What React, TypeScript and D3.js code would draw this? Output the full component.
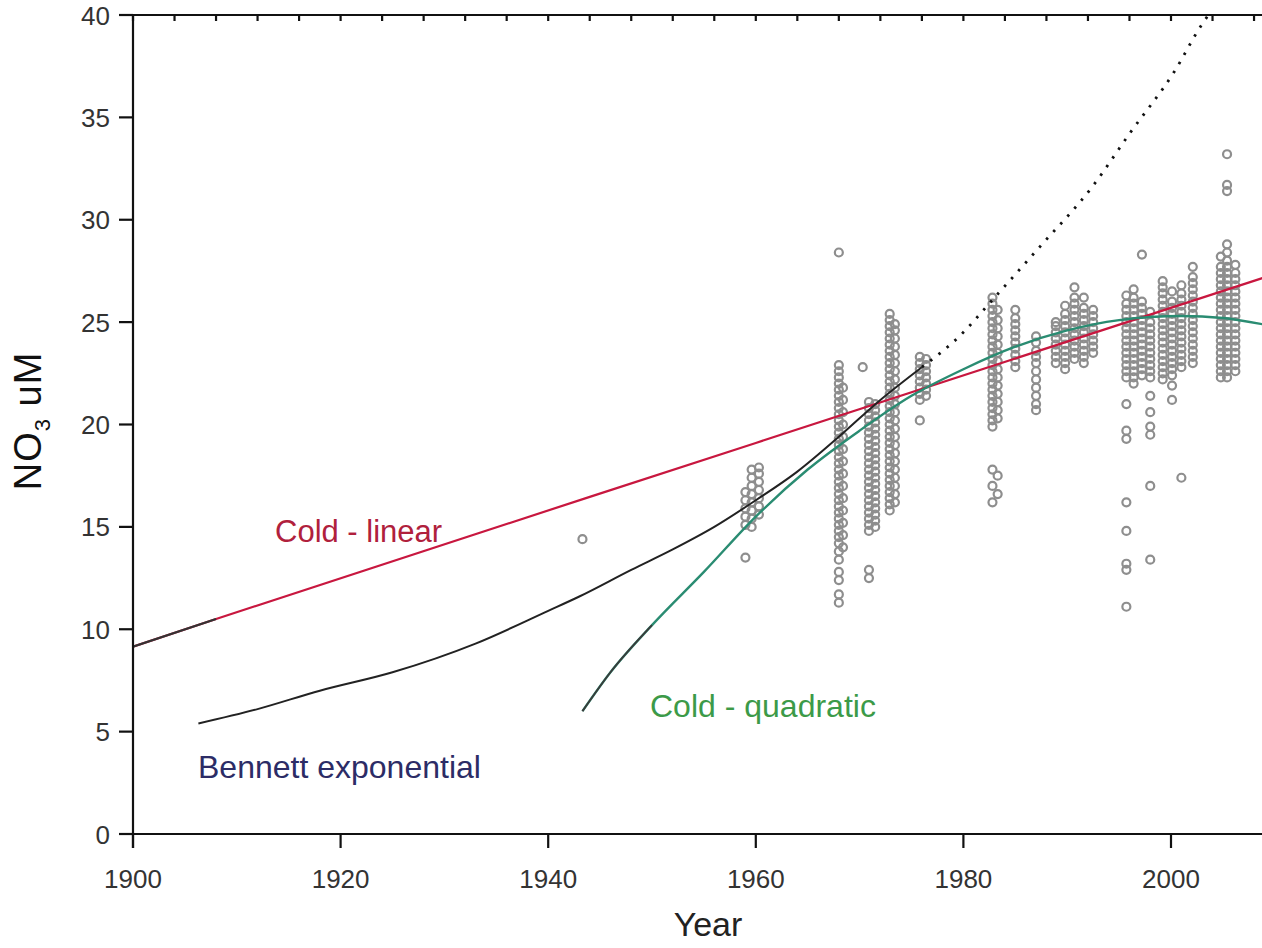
import React from "react";
import * as d3 from "d3";

// ---------- data ----------
const xTickYears = [1900, 1920, 1940, 1960, 1980, 2000];
const yTickValues = [0, 5, 10, 15, 20, 25, 30, 35, 40];
const topTickYears = [1900, 1904, 1908, 1912, 1916, 1920, 1924, 1928, 1932, 1936, 1940, 1944, 1948, 1952, 1956, 1960, 1964, 1968, 1972, 1976, 1980, 1984, 1988, 1992, 1996, 2000, 2004, 2008];

const linearYears = [1900, 1908, 1960, 2008.8];
const linearValues = [9.15, 10.5, 19.1, 27.15];

const bennettYears = [1906.3, 1912, 1918, 1925, 1933, 1940, 1943, 1948, 1952, 1956, 1960, 1964, 1968, 1972, 1976];
const bennettValues = [5.4, 6.1, 7.0, 7.9, 9.3, 10.9, 11.6, 12.9, 13.9, 15.0, 16.3, 17.7, 19.4, 21.2, 22.8];

const bennettExtYears = [1976, 1979.6, 1983, 1987.4, 1992.4, 1996, 2000.4, 2002.8, 2003.6];
const bennettExtValues = [22.8, 24.3, 26.2, 28.7, 31.6, 34.2, 37.3, 39.4, 40];

const quadYears = [1943.3, 1946, 1950, 1955, 1960, 1965, 1970, 1975, 1980, 1985, 1990, 1995, 2001, 2005, 2008.8];
const quadValues = [6.0, 7.9, 10.2, 12.8, 15.5, 17.8, 19.7, 21.4, 22.7, 23.8, 24.6, 25.1, 25.3, 25.2, 24.9];

const obsYears = [
  1943.3, 1959.0, 1959.6, 1960.3, 1968.0, 1968.4, 1970.3, 1970.9, 1971.5, 1972.9, 1973.4,
  1975.8, 1976.4, 1982.8, 1983.3, 1985.0, 1987.0, 1988.9, 1989.8, 1990.7, 1991.6, 1992.5,
  1995.7, 1996.4, 1997.2, 1998.0, 1999.2, 2000.1, 2001.0, 2002.1, 2004.8, 2005.4, 2006.2,
];
const obsValues: number[][] = [
  [14.4],
  [13.5, 15.1, 15.5, 15.9, 16.3, 16.7],
  [15.0, 15.4, 15.8, 16.2, 16.6, 17.0, 17.4, 17.8],
  [15.6, 16.0, 16.4, 16.8, 17.2, 17.6, 17.9],
  [11.3, 11.7, 12.4, 12.8, 13.4, 13.8, 14.2, 14.5, 14.8, 15.1, 15.4, 15.7, 16.0, 16.3, 16.6, 16.9, 17.2, 17.5, 17.8, 18.1, 18.4, 18.7, 19.0, 19.3, 19.6, 19.9, 20.2, 20.5, 20.8, 21.1, 21.4, 21.7, 22.0, 22.3, 22.6, 22.9, 28.4],
  [14.0, 14.6, 15.2, 15.8, 16.4, 17.0, 17.6, 18.2, 18.8, 19.4, 20.0, 20.6, 21.2, 21.8],
  [22.8],
  [12.5, 12.9, 14.8, 15.1, 15.4, 15.7, 16.0, 16.3, 16.6, 16.9, 17.2, 17.5, 17.8, 18.1, 18.4, 18.7, 19.0, 19.3, 19.6, 19.9, 20.2, 20.5, 20.8, 21.1],
  [15.0, 15.3, 15.6, 15.9, 16.2, 16.5, 16.8, 17.1, 17.4, 17.7, 18.0, 18.3, 18.6, 18.9, 19.2, 19.5, 19.8, 20.1, 20.4, 20.7, 21.0],
  [15.8, 16.1, 16.4, 16.7, 17.0, 17.3, 17.6, 17.9, 18.2, 18.5, 18.8, 19.1, 19.4, 19.7, 20.0, 20.3, 20.6, 20.9, 21.2, 21.5, 21.8, 22.1, 22.4, 22.7, 23.0, 23.3, 23.6, 23.9, 24.2, 24.5, 24.8, 25.1, 25.4],
  [16.2, 16.6, 17.0, 17.4, 17.8, 18.2, 18.6, 19.0, 19.4, 19.8, 20.2, 20.6, 21.0, 21.4, 21.8, 22.2, 22.6, 23.0, 23.4, 23.8, 24.2, 24.6, 24.9],
  [20.2, 21.2, 21.5, 21.8, 22.1, 22.4, 22.7, 23.0, 23.3],
  [21.4, 21.7, 22.0, 22.3, 22.6, 22.9, 23.2],
  [16.2, 17.0, 17.8, 19.9, 20.2, 20.5, 20.8, 21.1, 21.4, 21.7, 22.0, 22.3, 22.6, 22.9, 23.2, 23.5, 23.8, 24.1, 24.4, 24.7, 25.0, 25.3, 25.6, 25.9, 26.2],
  [16.6, 17.5, 20.3, 20.7, 21.1, 21.5, 21.9, 22.3, 22.7, 23.1, 23.5, 23.9, 24.3, 24.7, 25.1, 25.6],
  [22.8, 23.1, 23.4, 23.7, 24.0, 24.3, 24.6, 24.9, 25.2, 25.6],
  [20.7, 21.0, 21.4, 21.8, 22.2, 22.6, 23.0, 23.3, 23.6, 24.0, 24.3],
  [23.0, 23.3, 23.6, 23.9, 24.2, 24.5, 24.8, 25.0],
  [22.7, 23.0, 23.3, 23.6, 23.9, 24.2, 24.5, 24.8, 25.1, 25.4, 25.8],
  [23.2, 23.5, 23.8, 24.1, 24.4, 24.7, 25.0, 25.3, 25.6, 25.9, 26.2, 26.7],
  [23.0, 23.3, 23.6, 23.9, 24.2, 24.5, 24.8, 25.1, 25.4, 25.7, 26.2],
  [23.5, 23.8, 24.1, 24.4, 24.7, 25.0, 25.3, 25.6],
  [11.1, 12.9, 13.2, 14.8, 16.2, 19.3, 19.7, 21.0, 22.3, 22.6, 22.9, 23.2, 23.5, 23.8, 24.1, 24.4, 24.7, 25.0, 25.3, 25.6, 25.9, 26.3],
  [22.0, 22.3, 22.6, 22.9, 23.2, 23.5, 23.8, 24.1, 24.4, 24.7, 25.0, 25.3, 25.6, 25.9, 26.2, 26.6],
  [22.4, 22.7, 23.0, 23.3, 23.6, 23.9, 24.2, 24.5, 24.8, 25.1, 25.4, 25.7, 26.0, 28.3],
  [13.4, 17.0, 19.5, 19.9, 20.6, 21.4, 22.3, 22.6, 22.9, 23.2, 23.5, 23.8, 24.1, 24.4, 24.7, 25.0, 25.5],
  [22.2, 22.5, 22.8, 23.1, 23.4, 23.7, 24.0, 24.3, 24.6, 24.9, 25.2, 25.5, 25.8, 26.1, 26.4, 26.7, 27.0],
  [21.2, 21.9, 22.4, 22.7, 23.0, 23.3, 23.6, 23.9, 24.2, 24.5, 24.8, 25.1, 25.4, 25.7, 26.0, 26.5],
  [17.4, 22.8, 23.1, 23.4, 23.7, 24.0, 24.3, 24.6, 24.9, 25.2, 25.5, 25.8, 26.1, 26.4, 26.8],
  [23.0, 23.3, 23.6, 23.9, 24.2, 24.5, 24.8, 25.1, 25.4, 25.7, 26.0, 26.3, 26.6, 26.9, 27.2, 27.7],
  [22.3, 22.6, 22.9, 23.2, 23.5, 23.8, 24.1, 24.4, 24.7, 25.0, 25.3, 25.6, 25.9, 26.2, 26.5, 26.8, 27.1, 27.4, 27.7, 28.2],
  [22.3, 22.6, 22.9, 23.2, 23.5, 23.8, 24.1, 24.4, 24.7, 25.0, 25.3, 25.6, 25.9, 26.2, 26.5, 26.8, 27.1, 27.4, 27.7, 28.0, 28.4, 28.8, 31.4, 31.7, 33.2],
  [22.6, 22.9, 23.2, 23.5, 23.8, 24.1, 24.4, 24.7, 25.0, 25.3, 25.6, 25.9, 26.2, 26.5, 26.8, 27.1, 27.4, 27.8],
];

// ---------- layout ----------
const W = 1262;
const H = 948;
const x = d3.scaleLinear().domain([1900, 2000]).range([133, 1171]);
const y = d3.scaleLinear().domain([0, 40]).range([834, 15]);
const X0 = 133;
const XR = 1262;
const Y0 = 834;
const YT = 15;

const font = "'Liberation Sans', Arial, sans-serif";

function pts(years: number[], vals: number[]): [number, number][] {
  return years.map((yr, i) => [yr, vals[i]]);
}

const line = d3
  .line<[number, number]>()
  .x((d) => x(d[0]))
  .y((d) => y(d[1]))
  .curve(d3.curveMonotoneX);

export default function App() {
  const linear = pts(linearYears, linearValues);
  const bennett = pts(bennettYears, bennettValues);
  const bennettExt = pts(bennettExtYears, bennettExtValues);
  const quad = pts(quadYears, quadValues);
  const quadEarly = quad.filter((d) => d[0] <= 1950);

  const obs: [number, number][] = [];
  obsYears.forEach((yr, i) => obsValues[i].forEach((v) => obs.push([yr, v])));

  return (
    <div style={{ position: "absolute", left: 0, top: 0 }}>
      <svg width={W} height={H} style={{ display: "block", background: "#fff" }}>
        <defs>
          <clipPath id="plot">
            <rect x={X0} y={YT} width={XR - X0} height={Y0 - YT} />
          </clipPath>
        </defs>

        {/* scatter */}
        <g clipPath="url(#plot)">
          {obs.map((d, i) => (
            <circle key={i} cx={x(d[0])} cy={y(d[1])} r={4} fill="none" stroke="#8e8e8e" strokeWidth={2.2} />
          ))}
        </g>

        {/* lines */}
        <g clipPath="url(#plot)" fill="none">
          <path d={line(linear) || ""} stroke="#c8173f" strokeWidth={2.2} />
          <path d={line(linear.slice(0, 2)) || ""} stroke="#333" strokeWidth={2.2} />
          <path d={line(quad) || ""} stroke="#2a8c72" strokeWidth={2.4} />
          <path d={line(quadEarly) || ""} stroke="#3a3a3a" strokeWidth={1.8} />
          <path d={line(bennett) || ""} stroke="#222" strokeWidth={2} />
          <path d={line(bennettExt) || ""} stroke="#111" strokeWidth={2.8} strokeDasharray="2.5 8" />
        </g>

        {/* axes */}
        <g stroke="#111" strokeWidth={2.2}>
          <line x1={X0 - 14} x2={XR} y1={YT} y2={YT} />
          <line x1={X0 - 14} x2={XR} y1={Y0} y2={Y0} />
          <line x1={X0} x2={X0} y1={YT} y2={Y0 + 14} />
          {xTickYears.map((t) => (
            <line key={"xt" + t} x1={x(t)} x2={x(t)} y1={Y0} y2={Y0 + 14} />
          ))}
          {yTickValues.map((t) => (
            <line key={"yt" + t} x1={X0 - 14} x2={X0} y1={y(t)} y2={y(t)} />
          ))}
          {topTickYears.map((t) => (
            <line key={"tt" + t} x1={x(t)} x2={x(t)} y1={YT} y2={YT + 6} />
          ))}
        </g>

        <g fontFamily={font} fontSize={26} fill="#333">
          {xTickYears.map((t) => (
            <text key={"xl" + t} x={x(t)} y={888} textAnchor="middle">
              {t}
            </text>
          ))}
          {yTickValues.map((t) => (
            <text key={"yl" + t} x={110} y={y(t) + 9.5} textAnchor="end">
              {t}
            </text>
          ))}
        </g>

        {/* axis titles */}
        <text x={708} y={936} textAnchor="middle" fontFamily={font} fontSize={34} fill="#222">
          Year
        </text>
        <text
          transform="translate(41,421) rotate(-90)"
          textAnchor="middle"
          fontFamily={font}
          fontSize={38}
          letterSpacing={1}
          fill="#111"
        >
          NO
          <tspan fontSize={22} dy={9}>3</tspan>
          <tspan dy={-9}> uM</tspan>
        </text>

        {/* annotations */}
        <text x={275} y={542} fontFamily={font} fontSize={31} fill="#b0203c">
          Cold - linear
        </text>
        <text x={198} y={778} fontFamily={font} fontSize={32} fill="#2c2c66">
          Bennett exponential
        </text>
        <text x={650} y={717} fontFamily={font} fontSize={32} fill="#3c9a48">
          Cold - quadratic
        </text>
      </svg>
    </div>
  );
}
